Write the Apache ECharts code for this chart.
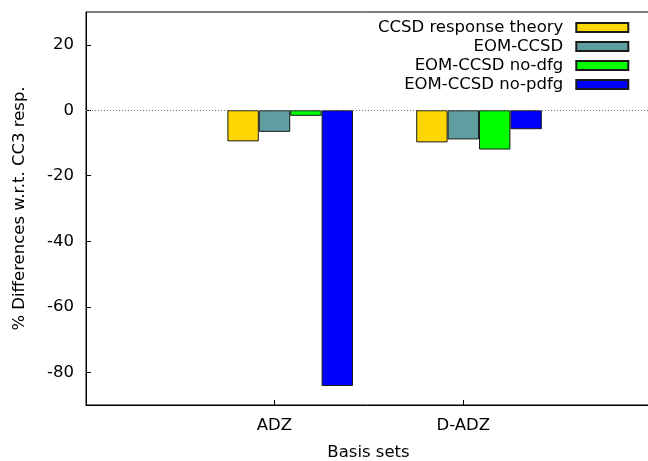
<!DOCTYPE html>
<html>
<head>
<meta charset="utf-8">
<script src="https://cdn.jsdelivr.net/npm/echarts@6/dist/echarts.min.js"></script>
<style>html,body{margin:0;padding:0;background:#fff;}#chart{width:648px;height:461px;}</style>
</head>
<body>
<div id="chart"></div>
<script>
var categories = ['ADZ', 'D-ADZ'];
var seriesNames = ['CCSD response theory', 'EOM-CCSD', 'EOM-CCSD no-dfg', 'EOM-CCSD no-pdfg'];
var ccsdResponse = [-9.5, -9.8];
var eomCcsd = [-6.6, -8.9];
var eomNoDfg = [-1.7, -12.0];
var eomNoPdfg = [-84.2, -5.8];
var yTickValues = [-80, -60, -40, -20, 0, 20];
var colors = ['#FFD700', '#5F9EA0', '#00FF00', '#0000FF'];

var values = [ccsdResponse, eomCcsd, eomNoDfg, eomNoPdfg];
var FONT = 'DejaVu Sans';
// tick for each category sits at the second bar of its cluster (gnuplot histogram)
var tickOffset = -1 / 12;
var xTickValues = categories.map(function (c, i) { return i + tickOffset; });

var chart = echarts.init(document.getElementById('chart'), null, {renderer: 'canvas'});
var series = seriesNames.map(function (name, k) {
  var s = {
    name: name,
    type: 'bar',
    barWidth: 31.4,
    barGap: '0%',
    itemStyle: {color: colors[k], borderColor: '#1a1a1a', borderWidth: 1},
    data: values[k].map(function (v, i) { return [i, v]; })
  };
  if (k === 0) {
    s.markLine = {
      silent: true,
      symbol: 'none',
      label: {show: false},
      lineStyle: {type: [1, 2], color: '#777', width: 1},
      data: [{yAxis: 0}]
    };
  }
  return s;
});

chart.setOption({
  animation: false,
  backgroundColor: '#fff',
  textStyle: {fontFamily: FONT},
  grid: {left: 86, top: 12, right: -3, bottom: 56, show: true, borderColor: '#000', borderWidth: 1,
         containLabel: false, outerBoundsMode: 'none'},
  legend: {
    orient: 'vertical',
    align: 'right',
    right: 13.7,
    top: 13,
    padding: 5,
    itemWidth: 52,
    itemHeight: 9,
    itemGap: 0,
    icon: 'rect',
    textStyle: {fontFamily: FONT, fontSize: 16.5, color: '#000', lineHeight: 19, padding: [0, 8, 0, 0]},
    data: seriesNames
  },
  xAxis: {
    type: 'value',
    min: -1.0816,
    max: -1.0816 + 565 / 188.8,
    name: 'Basis sets',
    nameLocation: 'middle',
    nameGap: 39,
    nameTextStyle: {fontFamily: FONT, fontSize: 16.5, color: '#000'},
    splitLine: {show: false},
    axisLine: {show: true, onZero: false, lineStyle: {color: '#000'}},
    axisTick: {show: true, inside: true, length: 5, lineStyle: {color: '#000'}, customValues: xTickValues},
    axisLabel: {
      customValues: xTickValues,
      margin: 12,
      fontFamily: FONT, fontSize: 16.5, color: '#000',
      formatter: function (v) { return categories[Math.round(v - tickOffset)]; }
    }
  },
  yAxis: {
    type: 'value',
    min: -90,
    max: 30,
    name: '% Differences w.r.t. CC3 resp.',
    nameLocation: 'middle',
    nameRotate: 90,
    nameGap: 58,
    nameTextStyle: {fontFamily: FONT, fontSize: 16.5, color: '#000'},
    splitLine: {show: false},
    axisLine: {show: true, onZero: false, lineStyle: {color: '#000'}},
    axisTick: {show: true, inside: true, length: 5, lineStyle: {color: '#000'}, customValues: yTickValues},
    axisLabel: {customValues: yTickValues, margin: 12, fontFamily: FONT, fontSize: 16.5, color: '#000'}
  },
  series: series
});
</script>
</body>
</html>
